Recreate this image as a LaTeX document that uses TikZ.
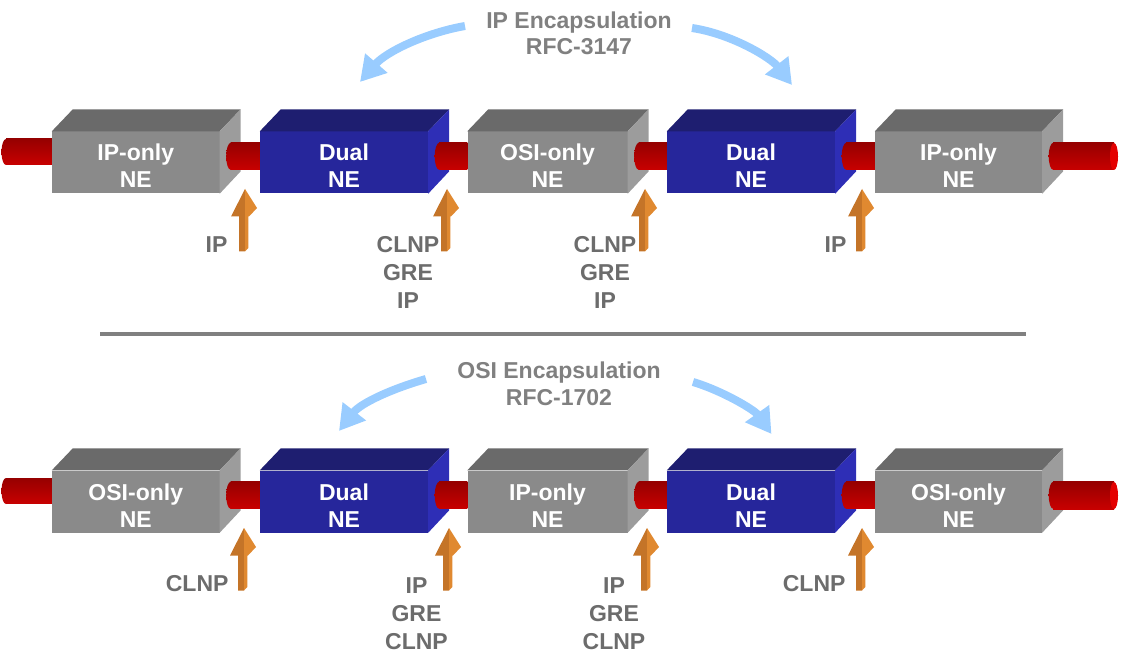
\documentclass[tikz,border=0pt]{standalone}
\usepackage{fontspec}
\setmainfont{Liberation Sans}
\usetikzlibrary{arrows.meta}
\definecolor{negray}{RGB}{138,138,138}
\definecolor{negraytop}{RGB}{106,106,106}
\definecolor{negrayside}{RGB}{156,156,156}
\definecolor{neblue}{RGB}{38,38,155}
\definecolor{nebluetop}{RGB}{30,30,112}
\definecolor{neblueside}{RGB}{46,46,182}
\definecolor{pipedark}{RGB}{150,0,0}
\definecolor{pipered}{RGB}{200,0,0}
\definecolor{pipeend}{RGB}{228,0,0}
\definecolor{feeddark}{RGB}{196,116,40}
\definecolor{feedlight}{RGB}{224,137,48}
\definecolor{encblue}{RGB}{153,204,255}
\definecolor{labgray}{RGB}{108,108,108}
\definecolor{titlegray}{RGB}{128,128,128}
\tikzstyle{grayne}=[rectangle, fill=negray, minimum height=62pt, inner sep=0pt]
\tikzstyle{dualne}=[rectangle, fill=neblue, minimum width=168pt, minimum height=62pt, inner sep=0pt]
\tikzstyle{netext}=[text=white, align=center, anchor=base, font=\fontsize{23}{27}\selectfont\bfseries]
\tikzstyle{proto}=[text=labgray, align=center, font=\fontsize{23}{28}\selectfont\bfseries]
\tikzstyle{encap}=[text=titlegray, align=center, anchor=base, font=\fontsize{23}{26.5}\selectfont\bfseries]
\tikzstyle{pipe}=[top color=pipedark, bottom color=pipered]
\tikzstyle{encarrow}=[line width=8pt, encblue, -{Triangle[length=25pt,width=28pt]}]
% top and side faces of a box
\newcommand{\nefaces}[3]{%
  \fill[#2] (#1.north west) -- ++(21,-22) -- ([shift={(21,-22)}]#1.north east) -- (#1.north east) -- cycle;
  \fill[#3] (#1.north east) -- ++(21,-22) -- ++(0,62) -- (#1.south east) -- cycle;}
% orange feed arrow, tip at #1
\newcommand{\feedarrow}[1]{%
  \fill[feeddark] (#1) -- ++(-14,27.5) -- ++(8,0) -- ++(0,35) -- ++(6,0) -- cycle;
  \fill[feedlight] (#1) -- ++(12,19) -- ++(-8,8.5) -- ++(-0.7,0) -- ++(0,31.5) -- ++(-3.3,3.5) -- cycle;}

\begin{document}
\begin{tikzpicture}[x=1pt, y=-1pt]
\useasboundingbox (0,0) rectangle (1122,655);

% IP encapsulation
\node[encap] (ipenc) at (579,55) {IP Encapsulation\\RFC-3147};
\coordinate (e1a) at (465,26);
\coordinate (e1b) at (360,82);
\coordinate (e2a) at (692,28);
\coordinate (e2b) at (792,85);
\draw[encarrow] (e1a) .. controls +(-40,7) and +(26,-30) .. (e1b);
\draw[encarrow] (e2a) .. controls +(40,6) and +(-21,-27) .. (e2b);

\node[grayne, minimum width=167.5pt] (ipl) at (135.75,162.5) {};
\nefaces{ipl}{negraytop}{negrayside}
\node[dualne] (dual1) at (344,162.5) {};
\nefaces{dual1}{nebluetop}{neblueside}
\node[grayne, minimum width=160pt] (osim) at (547.5,162.5) {};
\nefaces{osim}{negraytop}{negrayside}
\node[dualne] (dual2) at (751,162.5) {};
\nefaces{dual2}{nebluetop}{neblueside}
\node[grayne, minimum width=167pt] (ipr) at (958.5,162.5) {};
\nefaces{ipr}{negraytop}{negrayside}

\coordinate (inl) at (6,152);
\coordinate (outr) at (1114,156.5);
\shade[pipe] ([yshift=13pt]inl) rectangle ([shift={(0,33.5)}]ipl.north west);
\shade[pipe] (inl) ellipse [x radius=4.5pt, y radius=13pt];
\shade[pipe] ([shift={(11,11.5)}]ipl.north east) rectangle ([shift={(0,38.5)}]dual1.north west);
\shade[pipe] ([shift={(11,25)}]ipl.north east) ellipse [x radius=4.5pt, y radius=13.5pt];
\shade[pipe] ([shift={(11,11.5)}]dual1.north east) rectangle ([shift={(0,38.5)}]osim.north west);
\shade[pipe] ([shift={(11,25)}]dual1.north east) ellipse [x radius=4.5pt, y radius=13.5pt];
\shade[pipe] ([shift={(11,11.5)}]osim.north east) rectangle ([shift={(0,38.5)}]dual2.north west);
\shade[pipe] ([shift={(11,25)}]osim.north east) ellipse [x radius=4.5pt, y radius=13.5pt];
\shade[pipe] ([shift={(11,11.5)}]dual2.north east) rectangle ([shift={(0,38.5)}]ipr.north west);
\shade[pipe] ([shift={(11,25)}]dual2.north east) ellipse [x radius=4.5pt, y radius=13.5pt];
\shade[pipe] ([shift={(11,11.5)}]ipr.north east) rectangle ([yshift=-13.5pt]outr);
\shade[pipe] ([shift={(11,25)}]ipr.north east) ellipse [x radius=4.5pt, y radius=13.5pt];
\fill[pipeend] (outr) ellipse [x radius=4pt, y radius=13.5pt];

\node[netext] (ipl-t) at (135.75,188) {IP-only\\NE};
\node[netext] (dual1-t) at (344,188) {Dual\\NE};
\node[netext] (osim-t) at (547.5,188) {OSI-only\\NE};
\node[netext] (dual2-t) at (751,188) {Dual\\NE};
\node[netext] (ipr-t) at (958.5,188) {IP-only\\NE};

\coordinate (f1) at (245,189);
\coordinate (f2) at (447,189);
\coordinate (f3) at (645,189);
\coordinate (f4) at (862,189);
\feedarrow{f1}
\feedarrow{f2}
\feedarrow{f3}
\feedarrow{f4}
\node[proto, anchor=base east] (p1) at (231,253) {IP};
\node[proto, anchor=base] (p2) at (408,308) {CLNP\\GRE\\IP};
\node[proto, anchor=base] (p3) at (605,308) {CLNP\\GRE\\IP};
\node[proto, anchor=base east] (p4) at (850,253) {IP};

% divider
\coordinate (sepl) at (100,334);
\coordinate (sepr) at (1026,334);
\draw[line width=4pt, titlegray] (sepl) -- (sepr);

% OSI encapsulation
\node[encap] (osienc) at (559,405) {OSI Encapsulation\\RFC-1702};
\coordinate (e3a) at (426,379);
\coordinate (e3b) at (339,431);
\coordinate (e4a) at (693,382);
\coordinate (e4b) at (771.5,434);
\draw[encarrow] (e3a) .. controls +(-35,10) and +(21.5,-27.6) .. (e3b);
\draw[encarrow] (e4a) .. controls +(30,9) and +(-17,-24) .. (e4b);

\node[grayne, minimum width=167.5pt] (osil) at (135.75,501.5) {};
\nefaces{osil}{negraytop}{negrayside}
\node[dualne] (dual3) at (344,501.5) {};
\nefaces{dual3}{nebluetop}{neblueside}
\node[grayne, minimum width=160pt] (ipm) at (547.5,501.5) {};
\nefaces{ipm}{negraytop}{negrayside}
\node[dualne] (dual4) at (751,501.5) {};
\nefaces{dual4}{nebluetop}{neblueside}
\node[grayne, minimum width=167pt] (osir) at (958.5,501.5) {};
\nefaces{osir}{negraytop}{negrayside}

\coordinate (inl2) at (6,491);
\coordinate (outr2) at (1114,495.5);
\shade[pipe] ([yshift=13pt]inl2) rectangle ([shift={(0,33.5)}]osil.north west);
\shade[pipe] (inl2) ellipse [x radius=4.5pt, y radius=13pt];
\shade[pipe] ([shift={(11,11.5)}]osil.north east) rectangle ([shift={(0,38.5)}]dual3.north west);
\shade[pipe] ([shift={(11,25)}]osil.north east) ellipse [x radius=4.5pt, y radius=13.5pt];
\shade[pipe] ([shift={(11,11.5)}]dual3.north east) rectangle ([shift={(0,38.5)}]ipm.north west);
\shade[pipe] ([shift={(11,25)}]dual3.north east) ellipse [x radius=4.5pt, y radius=13.5pt];
\shade[pipe] ([shift={(11,11.5)}]ipm.north east) rectangle ([shift={(0,38.5)}]dual4.north west);
\shade[pipe] ([shift={(11,25)}]ipm.north east) ellipse [x radius=4.5pt, y radius=13.5pt];
\shade[pipe] ([shift={(11,11.5)}]dual4.north east) rectangle ([shift={(0,38.5)}]osir.north west);
\shade[pipe] ([shift={(11,25)}]dual4.north east) ellipse [x radius=4.5pt, y radius=13.5pt];
\shade[pipe] ([shift={(11,11.5)}]osir.north east) rectangle ([yshift=-13.5pt]outr2);
\shade[pipe] ([shift={(11,25)}]osir.north east) ellipse [x radius=4.5pt, y radius=13.5pt];
\fill[pipeend] (outr2) ellipse [x radius=4pt, y radius=13.5pt];

\node[netext] (osil-t) at (135.75,527) {OSI-only\\NE};
\node[netext] (dual3-t) at (344,527) {Dual\\NE};
\node[netext] (ipm-t) at (547.5,527) {IP-only\\NE};
\node[netext] (dual4-t) at (751,527) {Dual\\NE};
\node[netext] (osir-t) at (958.5,527) {OSI-only\\NE};

\coordinate (g1) at (244,528);
\coordinate (g2) at (449,528);
\coordinate (g3) at (647,528);
\coordinate (g4) at (862,528);
\feedarrow{g1}
\feedarrow{g2}
\feedarrow{g3}
\feedarrow{g4}
\node[proto, anchor=base east] (q1) at (232,591) {CLNP};
\node[proto, anchor=base] (q2) at (416.5,649) {IP\\GRE\\CLNP};
\node[proto, anchor=base] (q3) at (614,649) {IP\\GRE\\CLNP};
\node[proto, anchor=base east] (q4) at (849,591) {CLNP};
\end{tikzpicture}
\end{document}
